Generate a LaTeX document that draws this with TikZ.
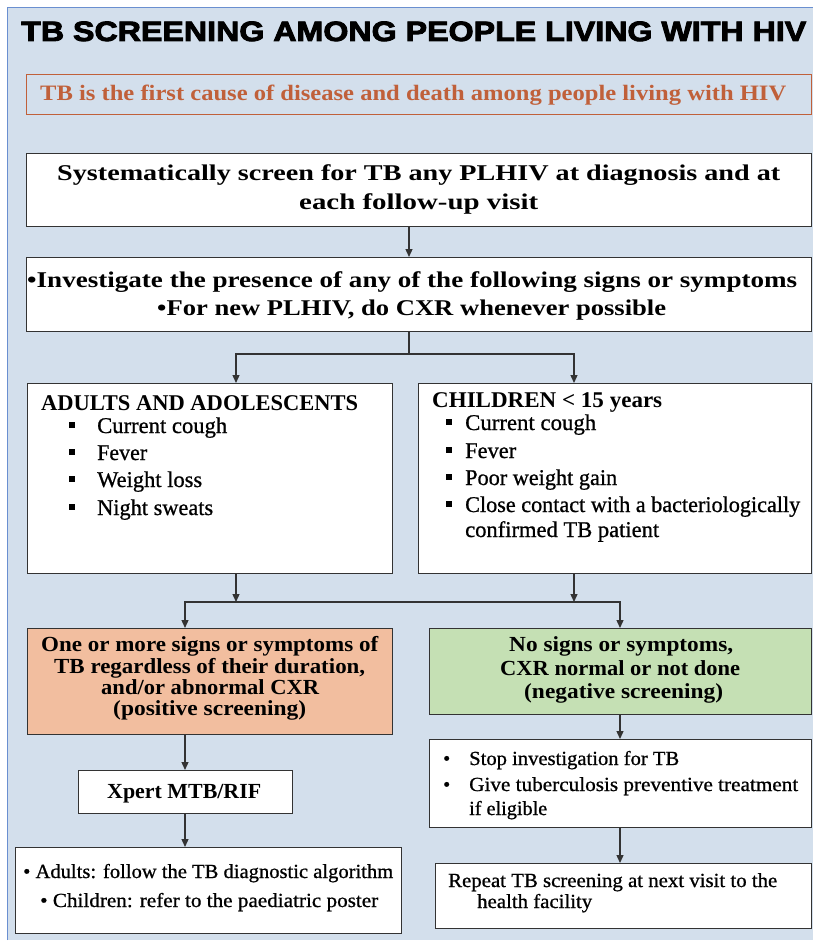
\documentclass[tikz,border=0pt]{standalone}
\usepackage{fontspec}
\usepackage{graphicx}
\setmainfont{Liberation Serif}
\newfontfamily\bodyrm{Liberation Serif}[FakeBold=0.8]
\newfontfamily\titlefont{Liberation Sans}[BoldFeatures={FakeBold=3}]
\usetikzlibrary{arrows.meta}

\definecolor{panelbg}{HTML}{D3DFEC}
\definecolor{panelrule}{HTML}{6A8FD0}
\definecolor{boxrule}{HTML}{333333}
\definecolor{warn}{HTML}{C0603A}
\definecolor{posfill}{HTML}{F2BE9F}
\definecolor{negfill}{HTML}{C5E0B4}

% set a line of text at its natural height, stretched or squeezed to a given width
\newcommand\fitw[2]{\resizebox{#1pt}{\height}{#2}}

\begin{document}
\begin{tikzpicture}[x=1pt,y=-1pt,
  box/.style={draw=boxrule,line width=1.4pt,fill=white,rectangle,inner sep=0pt,anchor=north west},
  conn/.style={draw=boxrule,line width=1.3pt},
  arr/.style={conn,-{Triangle[length=8pt,width=7pt]}},
  txt/.style={inner sep=0pt,anchor=base west,text=black},
  hb/.style={txt,font=\fontsize{22.5}{27}\selectfont\bfseries},
  hr/.style={txt,font=\fontsize{22.5}{27}\selectfont\bodyrm},
  mb/.style={txt,font=\fontsize{21.5}{25}\selectfont\bfseries},
  lr/.style={txt,font=\fontsize{20}{24}\selectfont\bodyrm},
  sq/.style={fill=black,minimum size=5.5pt,inner sep=0pt,rectangle},
]
\useasboundingbox (0,0) rectangle (812,942);

% background panel
\fill[panelbg] (7,8) rectangle (840,940);
\draw[panelrule,line width=1pt] (7,940) -- (7,8) -- (840,8);

% title and key message
\node[txt,font=\fontsize{28}{32}\selectfont\titlefont\bfseries] (title) at (21,41)
  {\fitw{785}{TB SCREENING AMONG PEOPLE LIVING WITH HIV}};
\node[box,fill=none,draw=warn,line width=1.3pt,minimum width=785pt,minimum height=40pt] (key) at (26,74) {};
\node[hb,text=warn,font=\fontsize{22}{26}\selectfont\bfseries] (keyt) at (40,100)
  {\fitw{746}{TB is the first cause of disease and death among people living with HIV}};

% boxes
\node[box,minimum width=785pt,minimum height=73pt] (scr) at (26,153) {};
\node[box,minimum width=785pt,minimum height=74pt] (inv) at (26,257) {};
\node[box,minimum width=365pt,minimum height=190pt] (ad) at (27,383) {};
\node[box,minimum width=393pt,minimum height=190pt] (ch) at (418,383) {};
\node[box,fill=posfill,minimum width=365pt,minimum height=106pt] (pos) at (27,628) {};
\node[box,fill=negfill,minimum width=382pt,minimum height=86pt] (neg) at (429,628) {};
\node[box,minimum width=214pt,minimum height=43pt] (xp) at (78,770) {};
\node[box,minimum width=386pt,minimum height=86pt] (dx) at (15,847) {};
\node[box,minimum width=382pt,minimum height=88pt] (stop) at (429,739) {};
\node[box,minimum width=376pt,minimum height=65pt] (rep) at (435,863) {};

% texts of the boxes
\node[hb] (scr1) at (57,180) {\fitw{723}{Systematically screen for TB any PLHIV at diagnosis and at}};
\node[hb] (scr2) at (299,209) {\fitw{239}{each follow-up visit}};

\node[hb] (inv1) at (27,287) {\fitw{770}{•Investigate the presence of any of the following signs or symptoms}};
\node[hb] (inv2) at (157,315) {\fitw{509}{•For new PLHIV, do CXR whenever possible}};

\node[hb] (adh) at (41,410) {\fitw{317}{ADULTS AND ADOLESCENTS}};
\node[sq] (ads1) at (72,425) {};
\node[sq] (ads2) at (72,452) {};
\node[sq] (ads3) at (72,479) {};
\node[sq] (ads4) at (72,507) {};
\node[hr] (ad1) at (97,433) {\fitw{130}{Current cough}};
\node[hr] (ad2) at (97,460) {\fitw{50}{Fever}};
\node[hr] (ad3) at (97,487) {\fitw{105}{Weight loss}};
\node[hr] (ad4) at (97,515) {\fitw{116}{Night sweats}};

\node[hb] (chh) at (432,407) {\fitw{230}{CHILDREN < 15 years}};
\node[sq] (chs1) at (449,422) {};
\node[sq] (chs2) at (449,450) {};
\node[sq] (chs3) at (449,477) {};
\node[sq] (chs4) at (449,504) {};
\node[hr] (ch1) at (465,430) {\fitw{131}{Current cough}};
\node[hr] (ch2) at (465,458) {\fitw{51}{Fever}};
\node[hr] (ch3) at (465,485) {\fitw{152}{Poor weight gain}};
\node[hr] (ch4) at (465,512) {\fitw{335}{Close contact with a bacteriologically}};
\node[hr] (ch5) at (465,537) {\fitw{194}{confirmed TB patient}};

\node[mb] (pos1) at (41,651) {\fitw{337}{One or more signs or symptoms of}};
\node[mb] (pos2) at (54,673) {\fitw{311}{TB regardless of their duration,}};
\node[mb] (pos3) at (101,694) {\fitw{218}{and/or abnormal CXR}};
\node[mb] (pos4) at (113,715) {\fitw{193}{(positive screening)}};

\node[mb] (neg1) at (509,651) {\fitw{224}{No signs or symptoms,}};
\node[mb] (neg2) at (500,675) {\fitw{240}{CXR normal or not done}};
\node[mb] (neg3) at (524,698) {\fitw{199}{(negative screening)}};

\node[mb] (xpt) at (107,798) {\fitw{154}{Xpert MTB/RIF}};

\node[lr] (dx1) at (23,878) {\fitw{370}{• Adults: follow the TB diagnostic algorithm}};
\node[lr] (dx2) at (40,907) {\fitw{338}{• Children: refer to the paediatric poster}};

\node[lr] (stb1) at (443,765) {•};
\node[lr] (stb2) at (443,791) {•};
\node[lr] (st1) at (469,765) {\fitw{210}{Stop investigation for TB}};
\node[lr] (st2) at (469,791) {\fitw{329}{Give tuberculosis preventive treatment}};
\node[lr] (st3) at (469,815) {\fitw{78}{if eligible}};

\node[lr] (rep1) at (448,887) {\fitw{329}{Repeat TB screening at next visit to the}};
\node[lr] (rep2) at (477,908) {\fitw{115}{health facility}};

% connector columns and junctions
\coordinate (cx) at (409,0);
\coordinate (ax) at (236,0);
\coordinate (kx) at (574,0);
\coordinate (px) at (185,0);
\coordinate (nx) at (620,0);
\coordinate (j1) at (409,354);
\coordinate (j2) at (236,602);

% connectors
\draw[arr] (scr.south -| cx) -- (inv.north -| cx);
\draw[conn] (inv.south -| cx) -- (j1);
\draw[arr] (j1) -| (ad.north -| ax);
\draw[arr] (j1) -| (ch.north -| kx);
\draw[arr] (ad.south -| ax) -- (j2);
\draw[arr] (ch.south -| kx) -- (kx |- j2);
\draw[arr] (j2) -| (pos.north -| px);
\draw[arr] (j2) -| (neg.north -| nx);
\draw[arr] (pos.south -| px) -- (xp.north -| px);
\draw[arr] (xp.south -| px) -- (dx.north -| px);
\draw[arr] (neg.south -| nx) -- (stop.north -| nx);
\draw[arr] (stop.south -| nx) -- (rep.north -| nx);
\end{tikzpicture}
\end{document}
